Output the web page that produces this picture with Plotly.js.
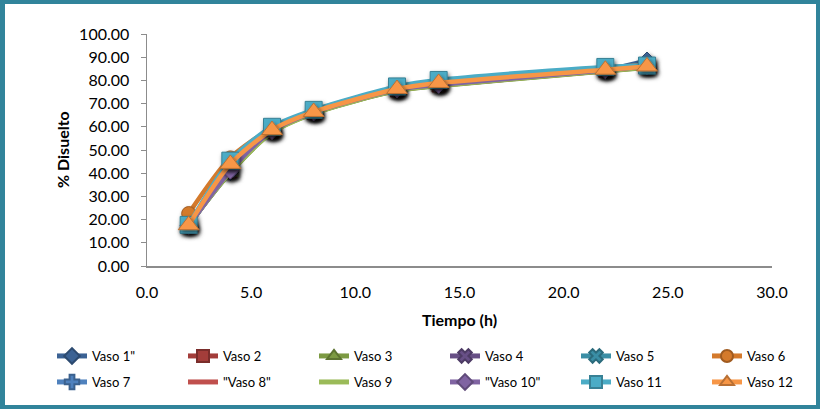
<!DOCTYPE html>
<html>
<head>
<meta charset="utf-8">
<script src="https://cdn.plot.ly/plotly-3.0.1.min.js"></script>
<style>
  html, body { margin: 0; padding: 0; background: #ffffff; }
  #wrap { position: relative; width: 820px; height: 409px; }
  #chart { width: 820px; height: 409px; }
  #frame {
    position: absolute; left: 0; top: 0; width: 820px; height: 409px;
    box-sizing: border-box; border: 4px solid #31849B; border-left-width: 5px;
    pointer-events: none;
  }
</style>
</head>
<body>
<div id="wrap">
  <div id="chart"></div>
  <div id="frame"></div>
</div>
<script>
// Sampling times (h)
const tiempo = [2, 4, 6, 8, 12, 14, 22, 24];

// % dissolved per vessel
const vaso1  = [17.5, 40.5, 58.3, 66.2, 76.0, 78.2, 84.6, 88.6];
const vaso2  = [17.9, 40.8, 57.9, 65.9, 75.7, 77.8, 84.1, 85.8];
const vaso3  = [17.8, 40.2, 57.6, 65.8, 75.5, 77.6, 83.9, 85.4];
const vaso4  = [17.4, 41.0, 58.1, 66.1, 75.9, 78.0, 84.3, 86.0];
const vaso5  = [17.2, 41.6, 58.6, 66.5, 76.4, 78.5, 84.9, 86.3];
const vaso6  = [22.6, 46.6, 59.4, 67.0, 76.9, 79.0, 85.3, 86.7];
const vaso7  = [17.3, 41.4, 58.4, 66.4, 76.2, 78.3, 84.7, 86.2];
const vaso8  = [17.6, 40.9, 58.0, 65.9, 75.8, 77.9, 84.2, 85.9];
const vaso9  = [17.5, 40.4, 57.5, 65.7, 75.6, 77.7, 84.0, 85.6];
const vaso10 = [17.3, 41.1, 58.2, 66.2, 76.1, 78.1, 84.4, 86.1];
const vaso11 = [17.7, 45.4, 60.0, 67.3, 77.4, 80.2, 85.8, 86.4];
const vaso12 = [17.6, 44.0, 58.6, 66.4, 76.3, 78.9, 84.6, 86.0];

const nombres = ['Vaso 1"', 'Vaso 2', 'Vaso 3', 'Vaso 4', 'Vaso 5', 'Vaso 6',
                 'Vaso 7', '"Vaso 8"', 'Vaso 9', '"Vaso 10"', 'Vaso 11', 'Vaso 12'];
const valores = [vaso1, vaso2, vaso3, vaso4, vaso5, vaso6,
                 vaso7, vaso8, vaso9, vaso10, vaso11, vaso12];

// Line colours, then darker marker outline colours
const colores = ['#3B6294', '#A33D3A', '#7C9A42', '#674F86', '#3A8EA5', '#D47A2C',
                 '#4F81BD', '#C0504D', '#9BBB59', '#8064A2', '#4BACC6', '#F79646'];
const bordes  = ['#2C4A70', '#7A2D2B', '#5D7431', '#4D3B65', '#2B6B7C', '#A05B20',
                 '#3B618E', '#903C3A', '#748C43', '#604B7A', '#388195', '#B97034'];
const simbolos = ['diamond', 'square', 'triangle-up', 'x', 'x', 'circle',
                  'cross', 'line-ew-open', 'line-ew-open', 'diamond', 'square', 'triangle-up'];
const tamanos  = [13, 13, 14, 12, 12, 14, 8, 8, 8, 13, 17, 18];

const font = 'Lato, "Liberation Sans", sans-serif';

// Legend laid out as a 6 x 2 grid, one legend box per vessel
const legendKeys = nombres.map((_, i) => i === 0 ? 'legend' : 'legend' + (i + 1));

const traces = valores.map((y, i) => {
  const open = simbolos[i].endsWith('-open');
  return {
    type: 'scatter',
    mode: 'lines+markers',
    name: nombres[i],
    legend: legendKeys[i],
    x: tiempo,
    y: y,
    line: { color: colores[i], width: 4.5, shape: 'spline', smoothing: 0.8 },
    marker: {
      symbol: simbolos[i],
      size: tamanos[i],
      color: colores[i],
      line: { color: open ? colores[i] : bordes[i], width: open ? 3 : 1 }
    }
  };
});

const layout = {
  width: 820,
  height: 409,
  margin: { l: 147, r: 48, t: 34, b: 143, autoexpand: false },
  paper_bgcolor: '#ffffff',
  plot_bgcolor: '#ffffff',
  font: { family: font, color: '#000000', size: 16 },
  showlegend: true,
  xaxis: {
    range: [0, 30],
    dtick: 5,
    tickformat: '.1f',
    showgrid: false,
    zeroline: false,
    showline: true,
    linecolor: '#8C8C8C',
    linewidth: 1.5,
    ticks: '',
    ticklabelstandoff: 11,
    tickfont: { family: font, size: 16 },
    title: { text: '<b>Tiempo (h)</b>', font: { family: font, size: 16 }, standoff: 15 }
  },
  yaxis: {
    range: [0, 100],
    dtick: 10,
    tickformat: '.2f',
    showgrid: false,
    zeroline: false,
    showline: true,
    linecolor: '#8C8C8C',
    linewidth: 1.5,
    ticks: 'outside',
    ticklen: 5,
    tickcolor: '#8C8C8C',
    ticklabelstandoff: 8,
    tickfont: { family: font, size: 16 }
  },
  annotations: [{
    // vertical axis title
    text: '<b>% Disuelto</b>',
    xref: 'paper', yref: 'paper',
    x: -0.136, y: 0.5,
    xanchor: 'center', yanchor: 'middle',
    textangle: -90,
    showarrow: false,
    font: { family: font, size: 16, color: '#000000' }
  }]
};

legendKeys.forEach((key, i) => {
  const col = i % 6;
  const row = Math.floor(i / 6);
  layout[key] = {
    xref: 'container',
    yref: 'container',
    x: (52 + 131 * col) / 820,
    y: 1 - (356 + 26 * row) / 409,
    xanchor: 'left',
    yanchor: 'middle',
    orientation: 'v',
    itemsizing: 'constant',
    font: { family: font, size: 13 },
    bgcolor: 'rgba(0,0,0,0)'
  };
});

Plotly.newPlot('chart', traces, layout, { displayModeBar: false, staticPlot: true }).then(gd => {
  // Soft drop shadow under the data markers
  const svg = gd.querySelector('svg.main-svg');
  const ns = 'http://www.w3.org/2000/svg';
  let defs = svg.querySelector('defs');
  if (!defs) { defs = document.createElementNS(ns, 'defs'); svg.insertBefore(defs, svg.firstChild); }
  const filter = document.createElementNS(ns, 'filter');
  filter.setAttribute('id', 'markerShadow');
  filter.setAttribute('x', '-60%'); filter.setAttribute('y', '-60%');
  filter.setAttribute('width', '220%'); filter.setAttribute('height', '220%');
  const ds = document.createElementNS(ns, 'feDropShadow');
  ds.setAttribute('dx', '1.5'); ds.setAttribute('dy', '2.5');
  ds.setAttribute('stdDeviation', '2');
  ds.setAttribute('flood-color', '#000000');
  ds.setAttribute('flood-opacity', '0.6');
  filter.appendChild(ds);
  defs.appendChild(filter);
  gd.querySelectorAll('.scatterlayer .trace .points path').forEach(p => {
    p.setAttribute('filter', 'url(#markerShadow)');
  });
});
</script>
</body>
</html>
